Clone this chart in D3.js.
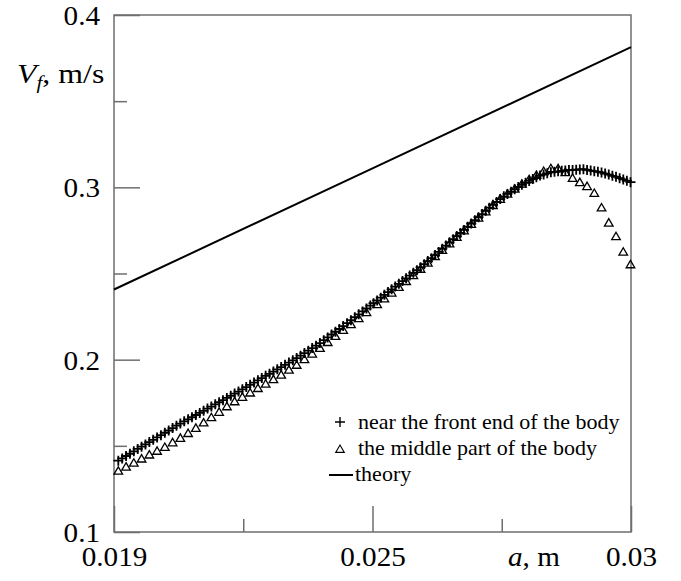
<!DOCTYPE html>
<meta charset="utf-8">
<style>
  body { margin: 0; background: #fff; }
  text { font-family: 'Liberation Serif', 'Times New Roman', serif; fill: #000; }
</style>
<script src="https://d3js.org/d3.v7.min.js"></script>
<div id="chart"></div>
<script>

// ---- values ----
// "+" : near the front end of the body
var aFront = [
  0.01910, 0.01919, 0.01928, 0.01937, 0.01946, 0.01955, 0.01964, 0.01973, 0.01982, 0.01991,
  0.02000, 0.02009, 0.02018, 0.02027, 0.02036, 0.02045, 0.02054, 0.02063, 0.02072, 0.02081,
  0.02090, 0.02099, 0.02108, 0.02117, 0.02126, 0.02135, 0.02144, 0.02153, 0.02162, 0.02171,
  0.02180, 0.02189, 0.02198, 0.02207, 0.02216, 0.02225, 0.02234, 0.02243, 0.02252, 0.02261,
  0.02270, 0.02279, 0.02288, 0.02297, 0.02306, 0.02315, 0.02324, 0.02333, 0.02342, 0.02351,
  0.02360, 0.02369, 0.02378, 0.02387, 0.02396, 0.02405, 0.02414, 0.02423, 0.02432, 0.02441,
  0.02450, 0.02459, 0.02468, 0.02477, 0.02486, 0.02495,
  0.02502, 0.02509, 0.02516, 0.02523, 0.02530, 0.02537, 0.02544, 0.02551, 0.02558, 0.02565,
  0.02572, 0.02579, 0.02586, 0.02593, 0.02600, 0.02607, 0.02614, 0.02621, 0.02628, 0.02635,
  0.02642, 0.02649, 0.02656, 0.02663, 0.02670, 0.02677, 0.02684, 0.02691, 0.02698, 0.02705,
  0.02712, 0.02719, 0.02726, 0.02733, 0.02740, 0.02747, 0.02754, 0.02761, 0.02768, 0.02775,
  0.02782, 0.02789, 0.02796, 0.02803, 0.02810, 0.02817, 0.02824, 0.02831, 0.02838, 0.02845,
  0.02852, 0.02859, 0.02866, 0.02873, 0.02880, 0.02887, 0.02894, 0.02901, 0.02908, 0.02915,
  0.02922, 0.02929, 0.02936, 0.02943, 0.02950, 0.02957, 0.02964, 0.02971, 0.02978, 0.02985,
  0.02992, 0.02999
];
var vFront = [
  0.1414, 0.1427, 0.1441, 0.1454, 0.1468, 0.1482, 0.1495, 0.1508, 0.1522, 0.1535,
  0.1549, 0.1562, 0.1576, 0.1589, 0.1603, 0.1617, 0.1629, 0.1642, 0.1654, 0.1666,
  0.1679, 0.1691, 0.1703, 0.1716, 0.1728, 0.1741, 0.1753, 0.1765, 0.1778, 0.1790,
  0.1803, 0.1815, 0.1828, 0.1841, 0.1854, 0.1867, 0.1880, 0.1893, 0.1906, 0.1918,
  0.1931, 0.1944, 0.1957, 0.1970, 0.1983, 0.1996, 0.2009, 0.2023, 0.2038, 0.2052,
  0.2067, 0.2081, 0.2096, 0.2113, 0.2129, 0.2146, 0.2162, 0.2178, 0.2195, 0.2212,
  0.2229, 0.2246, 0.2263, 0.2280, 0.2297, 0.2314,
  0.2328, 0.2344, 0.2360, 0.2376, 0.2392, 0.2408, 0.2424, 0.2440, 0.2456, 0.2472,
  0.2488, 0.2504, 0.2519, 0.2536, 0.2554, 0.2572, 0.2589, 0.2607, 0.2625, 0.2644,
  0.2662, 0.2681, 0.2699, 0.2717, 0.2735, 0.2753, 0.2772, 0.2790, 0.2809, 0.2827,
  0.2845, 0.2864, 0.2882, 0.2899, 0.2915, 0.2932, 0.2948, 0.2962, 0.2975, 0.2989,
  0.3002, 0.3015, 0.3026, 0.3037, 0.3048, 0.3059, 0.3068, 0.3074, 0.3081, 0.3087,
  0.3090, 0.3093, 0.3096, 0.3098, 0.3100, 0.3101, 0.3102, 0.3104, 0.3105, 0.3101,
  0.3097, 0.3094, 0.3090, 0.3086, 0.3080, 0.3074, 0.3067, 0.3061, 0.3053, 0.3046,
  0.3038, 0.3030
];

// triangles : the middle part of the body
var aMiddle = [
  0.01910, 0.01928, 0.01946, 0.01964, 0.01982, 0.02000, 0.02018, 0.02036, 0.02054, 0.02072,
  0.02090, 0.02108, 0.02126, 0.02144, 0.02162, 0.02180, 0.02198, 0.02216, 0.02234, 0.02252,
  0.02270, 0.02288, 0.02306, 0.02324, 0.02342, 0.02360, 0.02378, 0.02396, 0.02414, 0.02432,
  0.02450, 0.02468, 0.02486,
  0.02509, 0.02523, 0.02537, 0.02551, 0.02565, 0.02579, 0.02593, 0.02607, 0.02621, 0.02635,
  0.02649, 0.02663, 0.02677, 0.02691, 0.02705, 0.02719, 0.02733, 0.02747, 0.02761, 0.02775,
  0.02789, 0.02803, 0.02817, 0.02831, 0.02845, 0.02859, 0.02873, 0.02887, 0.02901, 0.02915,
  0.02929, 0.02943, 0.02957, 0.02971, 0.02985, 0.02999
];
var vMiddle = [
  0.1355, 0.1379, 0.1402, 0.1426, 0.1449, 0.1471, 0.1493, 0.1520, 0.1546, 0.1574,
  0.1604, 0.1635, 0.1666, 0.1697, 0.1729, 0.1758, 0.1784, 0.1809, 0.1835, 0.1860,
  0.1886, 0.1913, 0.1942, 0.1970, 0.2003, 0.2035, 0.2068, 0.2102, 0.2137, 0.2172,
  0.2206, 0.2240, 0.2275,
  0.2322, 0.2355, 0.2389, 0.2422, 0.2456, 0.2490, 0.2527, 0.2563, 0.2600, 0.2636,
  0.2674, 0.2712, 0.2750, 0.2787, 0.2824, 0.2860, 0.2897, 0.2933, 0.2963, 0.2992,
  0.3021, 0.3047, 0.3072, 0.3095, 0.3111, 0.3110, 0.3088, 0.3054, 0.3030, 0.3007,
  0.2967, 0.2883, 0.2795, 0.2716, 0.2626, 0.2553
];

// theory line
var aTheory = [0.019, 0.025, 0.03];
var vTheory = [0.2407, 0.3110, 0.3814];

// axes
var xMajorTicks = [0.019, 0.025, 0.03];
var xTickLabels = ["0.019", "0.025", "0.03"];
var xMinorTicks = [0.022, 0.0275];
var yMajorTicks = [0.1, 0.2, 0.3, 0.4];
var yTickLabels = ["0.1", "0.2", "0.3", "0.4"];
var yMinorTicks = [0.15, 0.25, 0.35];

var legendLabels = ["near the front end of the body", "the middle part of the body", "theory"];

// ---- layout ----
var W = 681, H = 581;
var margin = {top: 15, right: 50, bottom: 49, left: 114},
    width = W - margin.left - margin.right,
    height = H - margin.top - margin.bottom;

var axisColor = "#6e6e6e";
var stretch = 1.08;   // the source lettering is a little wide

var svg = d3.select("#chart")
  .append("svg")
    .attr("width", W)
    .attr("height", H);

var g = svg.append("g")
    .attr("transform", "translate(" + margin.left + "," + margin.top + ")");

// x axis labels are not evenly spaced in value, so the scale is piecewise
var x = d3.scaleLinear()
  .domain([0.019, 0.025, 0.03])
  .range([0, width / 2, width]);

var y = d3.scaleLinear()
  .domain([0.1, 0.4])
  .range([height, 0]);

// frame
g.append("rect")
  .attr("x", 0).attr("y", 0)
  .attr("width", width).attr("height", height)
  .attr("fill", "none")
  .attr("stroke", axisColor)
  .attr("stroke-width", 1.5);

// y axis: long inner ticks with labels, short ones without
var yAxis = g.append("g")
  .call(d3.axisLeft(y).tickValues(yMajorTicks).tickSize(-26).tickSizeOuter(0)
    .tickFormat(function(d, i) { return yTickLabels[i]; }));
g.append("g")
  .call(d3.axisLeft(y).tickValues(yMinorTicks).tickSize(-13).tickSizeOuter(0).tickFormat(""));

// x axis
var xAxis = g.append("g")
  .attr("transform", "translate(0," + height + ")")
  .call(d3.axisBottom(x).tickValues(xMajorTicks).tickSize(-26).tickSizeOuter(0)
    .tickFormat(function(d, i) { return xTickLabels[i]; }));
g.append("g")
  .attr("transform", "translate(0," + height + ")")
  .call(d3.axisBottom(x).tickValues(xMinorTicks).tickSize(-13).tickSizeOuter(0).tickFormat(""));

g.selectAll(".domain").remove();
g.selectAll(".tick line").attr("stroke", axisColor).attr("stroke-width", 1.5);

yAxis.selectAll("text")
  .attr("x", 0)
  .attr("dy", 0)
  .attr("transform", "translate(-14,9.5) scale(" + stretch + ",1)")
  .style("font-size", "27px")
  .style("font-family", "'Liberation Serif', serif")
  .attr("fill", "#000");

xAxis.selectAll("text")
  .attr("y", 0)
  .attr("dy", 0)
  .attr("transform", "translate(0,34) scale(" + stretch + ",1)")
  .style("font-size", "27px")
  .style("font-family", "'Liberation Serif', serif")
  .attr("fill", "#000");

// axis titles
var yTitle = svg.append("text")
  .attr("transform", "translate(17,83) scale(1.18,1)")
  .style("font-size", "27px");
yTitle.append("tspan").style("font-style", "italic").text("V");
yTitle.append("tspan").style("font-style", "italic").style("font-size", "18px").attr("dy", 6).text("f");
yTitle.append("tspan").attr("dy", -6).text(", m/s");

var xTitle = svg.append("text")
  .attr("transform", "translate(508,566) scale(" + stretch + ",1)")
  .style("font-size", "27px");
xTitle.append("tspan").style("font-style", "italic").text("a");
xTitle.append("tspan").text(", m");

// theory line
var theory = aTheory.map(function(d, i) { return {a: d, v: vTheory[i]}; });
g.append("path")
  .datum(theory)
  .attr("fill", "none")
  .attr("stroke", "#000")
  .attr("stroke-width", 2)
  .attr("d", d3.line()
    .x(function(d) { return x(d.a); })
    .y(function(d) { return y(d.v); }));

// markers
var plusPath = "M-5,0H5M0,-5V5";
var triPath = "M0,-4L4.3,3.4L-4.3,3.4Z";

var front = aFront.map(function(d, i) { return {a: d, v: vFront[i]}; });
var middle = aMiddle.map(function(d, i) { return {a: d, v: vMiddle[i]}; });

g.selectAll(".front")
  .data(front)
  .enter().append("path")
    .attr("class", "front")
    .attr("d", plusPath)
    .attr("transform", function(d) { return "translate(" + x(d.a) + "," + y(d.v) + ")"; })
    .attr("fill", "none")
    .attr("stroke", "#000")
    .attr("stroke-width", 1.8);

g.selectAll(".middle")
  .data(middle)
  .enter().append("path")
    .attr("class", "middle")
    .attr("d", triPath)
    .attr("transform", function(d) { return "translate(" + x(d.a) + "," + y(d.v) + ")"; })
    .attr("fill", "none")
    .attr("stroke", "#000")
    .attr("stroke-width", 1.3);

// legend
var legend = svg.append("g").attr("transform", "translate(340,422)");
legend.append("path").attr("d", plusPath).attr("fill", "none").attr("stroke", "#000").attr("stroke-width", 1.4);
legend.append("path").attr("d", triPath).attr("transform", "translate(0,27)")
  .attr("fill", "none").attr("stroke", "#000").attr("stroke-width", 1.1);
legend.append("line").attr("x1", -11).attr("x2", 13).attr("y1", 53).attr("y2", 53)
  .attr("stroke", "#000").attr("stroke-width", 2);

legend.selectAll(".legtext")
  .data(legendLabels)
  .enter().append("text")
    .attr("class", "legtext")
    .attr("x", function(d, i) { return i == 2 ? 15 : 18; })
    .attr("y", function(d, i) { return 7 + i * 26; })
    .style("font-size", "22px")
    .text(function(d) { return d; });

</script>
